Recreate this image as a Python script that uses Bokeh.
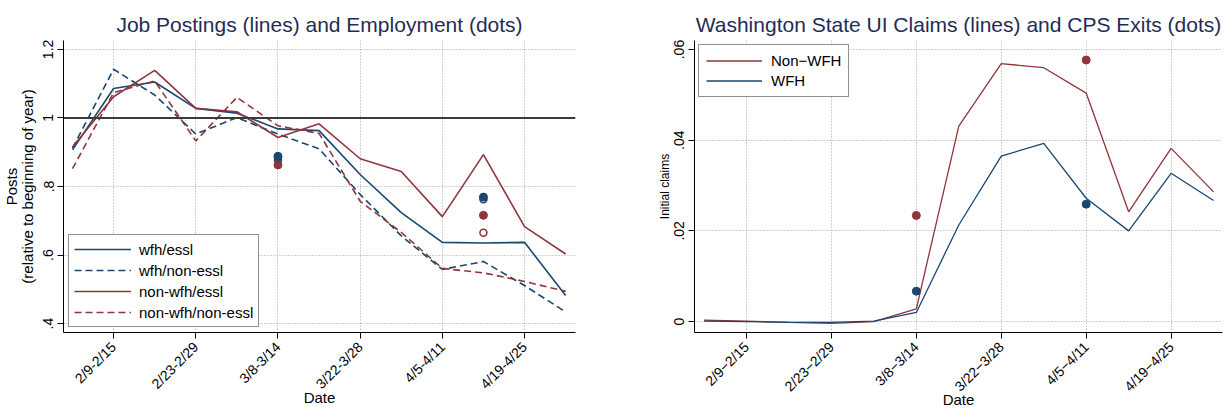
import math
from bokeh.plotting import figure
from bokeh.models import Range1d, FixedTicker, Legend, LegendItem, Span
from bokeh.layouts import row
from bokeh.embed import file_html
from bokeh.resources import INLINE

# ---------------- data ----------------
weeks = list(range(13))  # week index: 0 = 2/2-2/8 ... 12 = 4/26-5/2
tick_weeks = [1, 3, 5, 7, 9, 11]
tick_labels_left = ["2/9-2/15", "2/23-2/29", "3/8-3/14", "3/22-3/28", "4/5-4/11", "4/19-4/25"]
tick_labels_right = ["2/9\u22122/15", "2/23\u22122/29", "3/8\u22123/14", "3/22\u22123/28", "4/5\u22124/11", "4/19\u22124/25"]

# Job postings (lines), relative to beginning of year
wfh_essl = [0.907, 1.086, 1.105, 1.028, 1.014, 0.968, 0.963, 0.835, 0.724, 0.637, 0.635, 0.637, 0.482]
wfh_nonessl = [0.912, 1.142, 1.067, 0.953, 1.001, 0.953, 0.910, 0.777, 0.656, 0.558, 0.581, 0.511, 0.434]
nonwfh_essl = [0.915, 1.062, 1.139, 1.028, 1.018, 0.943, 0.983, 0.881, 0.844, 0.712, 0.893, 0.683, 0.603]
nonwfh_nonessl = [0.852, 1.074, 1.108, 0.933, 1.060, 0.977, 0.955, 0.757, 0.666, 0.561, 0.548, 0.523, 0.494]

# Employment (dots)
emp_weeks = [5, 10]
emp_wfh_essl = [0.888, 0.769]
emp_wfh_nonessl = [0.884, 0.763]
emp_nonwfh_essl = [0.863, 0.716]
emp_nonwfh_nonessl = [0.876, 0.665]

left_yticks = [0.4, 0.6, 0.8, 1.0, 1.2]
left_ytick_labels = [".4", ".6", ".8", "1", "1.2"]

# Washington State UI claims (lines)
ui_nonwfh = [0.0003, 0.0001, -0.0002, -0.0004, 0.0000, 0.0028, 0.0431, 0.0569, 0.0560, 0.0504, 0.0242, 0.0382, 0.0286]
ui_wfh = [0.0001, 0.0000, -0.0002, -0.0002, 0.0001, 0.0020, 0.0213, 0.0365, 0.0393, 0.0272, 0.0200, 0.0327, 0.0267]

# CPS exits (dots)
cps_weeks = [5, 9]
cps_nonwfh = [0.0234, 0.0577]
cps_wfh = [0.0067, 0.0259]

right_yticks = [0.0, 0.02, 0.04, 0.06]
right_ytick_labels = ["0", ".02", ".04", ".06"]

# ---------------- style ----------------
BLUE = "#1a476f"
RED = "#90353b"
TITLE = "#1f2d56"
FONT = "Liberation Sans"
GRID = "#a0a0a0"
H = 411


def base_fig(width, xr, yr, left, right, title):
    p = figure(width=width, height=H, x_range=Range1d(*xr), y_range=Range1d(*yr),
               output_backend="svg", toolbar_location=None,
               min_border_left=left, min_border_right=right,
               min_border_top=40, min_border_bottom=78, title=title)
    p.outline_line_color = None
    p.background_fill_color = "white"
    p.border_fill_color = "white"
    p.title.align = "center"
    p.title.text_font = FONT
    p.title.text_font_size = "21px"
    p.title.text_font_style = "normal"
    p.title.text_color = TITLE
    p.title.standoff = 9
    for ax in (p.xaxis[0], p.yaxis[0]):
        ax.axis_line_color = "black"
        ax.axis_line_width = 1
        ax.major_tick_line_color = "black"
        ax.major_tick_out = 6
        ax.major_tick_in = 0
        ax.minor_tick_line_color = None
        ax.major_label_text_font = FONT
        ax.major_label_text_font_size = "14px"
        ax.major_label_text_color = "black"
        ax.axis_label_text_font = FONT
        ax.axis_label_text_font_style = "normal"
        ax.axis_label_text_color = "black"
    p.xaxis.ticker = FixedTicker(ticks=tick_weeks)
    p.xgrid.ticker = FixedTicker(ticks=tick_weeks)
    p.xaxis.major_label_orientation = math.pi / 4
    p.xaxis.major_label_standoff = 6
    p.xaxis.axis_label = "Date"
    p.xaxis.axis_label_text_font_size = "15px"
    p.xaxis.axis_label_standoff = -12
    p.yaxis.major_label_orientation = "vertical"
    p.yaxis.major_label_standoff = 4
    for g in (p.xgrid[0], p.ygrid[0]):
        g.grid_line_color = GRID
        g.grid_line_dash = "1 2"
        g.grid_line_width = 1
    return p


# ---------------- left chart ----------------
left = base_fig(610, (-0.219, 12.24), (0.374, 1.226), 63, 35,
                "Job Postings (lines) and Employment (dots)")
left.yaxis.ticker = FixedTicker(ticks=left_yticks)
left.ygrid.ticker = FixedTicker(ticks=left_yticks)
left.yaxis.major_label_overrides = dict(zip(left_yticks, left_ytick_labels))
left.xaxis.major_label_overrides = dict(zip(tick_weeks, tick_labels_left))
left.yaxis.axis_label = "Posts\n(relative to beginning of year)"
left.yaxis.axis_label_text_font_size = "15px"
left.yaxis.axis_label_text_line_height = 0.9
left.yaxis.axis_label_standoff = 5

left.add_layout(Span(location=1.0, dimension="width", line_color="#3a3a3a", line_width=2))

r1 = left.line(weeks, wfh_essl, line_color=BLUE, line_width=1.6)
r2 = left.line(weeks, wfh_nonessl, line_color=BLUE, line_width=1.6, line_dash="7 4")
r3 = left.line(weeks, nonwfh_essl, line_color=RED, line_width=1.6)
r4 = left.line(weeks, nonwfh_nonessl, line_color=RED, line_width=1.6, line_dash="7 4")

left.scatter(emp_weeks, emp_nonwfh_essl, size=8, fill_color=RED, line_color=RED)
left.scatter(emp_weeks, emp_nonwfh_nonessl, size=7, fill_color=None, line_color=RED, line_width=1.5)
left.scatter(emp_weeks, emp_wfh_nonessl, size=7, fill_color=None, line_color=BLUE, line_width=1.5)
left.scatter(emp_weeks, emp_wfh_essl, size=8, fill_color=BLUE, line_color=BLUE)

leg_l = Legend(items=[LegendItem(label="wfh/essl", renderers=[r1]),
                      LegendItem(label="wfh/non-essl", renderers=[r2]),
                      LegendItem(label="non-wfh/essl", renderers=[r3]),
                      LegendItem(label="non-wfh/non-essl", renderers=[r4])],
               location="bottom_left")
left.add_layout(leg_l)

# ---------------- right chart ----------------
right = base_fig(615, (-0.224, 12.21), (-0.00242, 0.062), 84, 3,
                 "Washington State UI Claims (lines) and CPS Exits (dots)")
right.yaxis.ticker = FixedTicker(ticks=right_yticks)
right.ygrid.ticker = FixedTicker(ticks=right_yticks)
right.yaxis.major_label_overrides = dict(zip(right_yticks, right_ytick_labels))
right.xaxis.major_label_overrides = dict(zip(tick_weeks, tick_labels_right))
right.yaxis.axis_label = "Initial claims"
right.yaxis.axis_label_text_font_size = "12px"
right.yaxis.axis_label_standoff = 0

q1 = right.line(weeks, ui_nonwfh, line_color=RED, line_width=1.3)
q2 = right.line(weeks, ui_wfh, line_color=BLUE, line_width=1.3)
right.scatter(cps_weeks, cps_nonwfh, size=8, fill_color=RED, line_color=RED)
right.scatter(cps_weeks, cps_wfh, size=8, fill_color=BLUE, line_color=BLUE)

leg_r = Legend(items=[LegendItem(label="Non\u2212WFH", renderers=[q1]),
                      LegendItem(label="WFH", renderers=[q2])],
               location="top_left")
right.add_layout(leg_r)

for leg in (leg_l, leg_r):
    leg.label_text_font = FONT
    leg.label_text_font_size = "15px"
    leg.label_text_color = "black"
    leg.border_line_color = "#222222"
    leg.border_line_width = 1.2
    leg.background_fill_color = "white"
    leg.background_fill_alpha = 1.0

leg_l.glyph_width = 57
leg_l.glyph_height = 18
leg_l.label_height = 18
leg_l.label_standoff = 8
leg_l.padding = 5
leg_l.spacing = 3
leg_l.margin = 5

leg_r.glyph_width = 56
leg_r.glyph_height = 17
leg_r.label_height = 17
leg_r.label_standoff = 9
leg_r.padding = 7
leg_r.spacing = 3
leg_r.margin = 4

layout = row(left, right)
open("out.html", "w").write(file_html(layout, INLINE))
